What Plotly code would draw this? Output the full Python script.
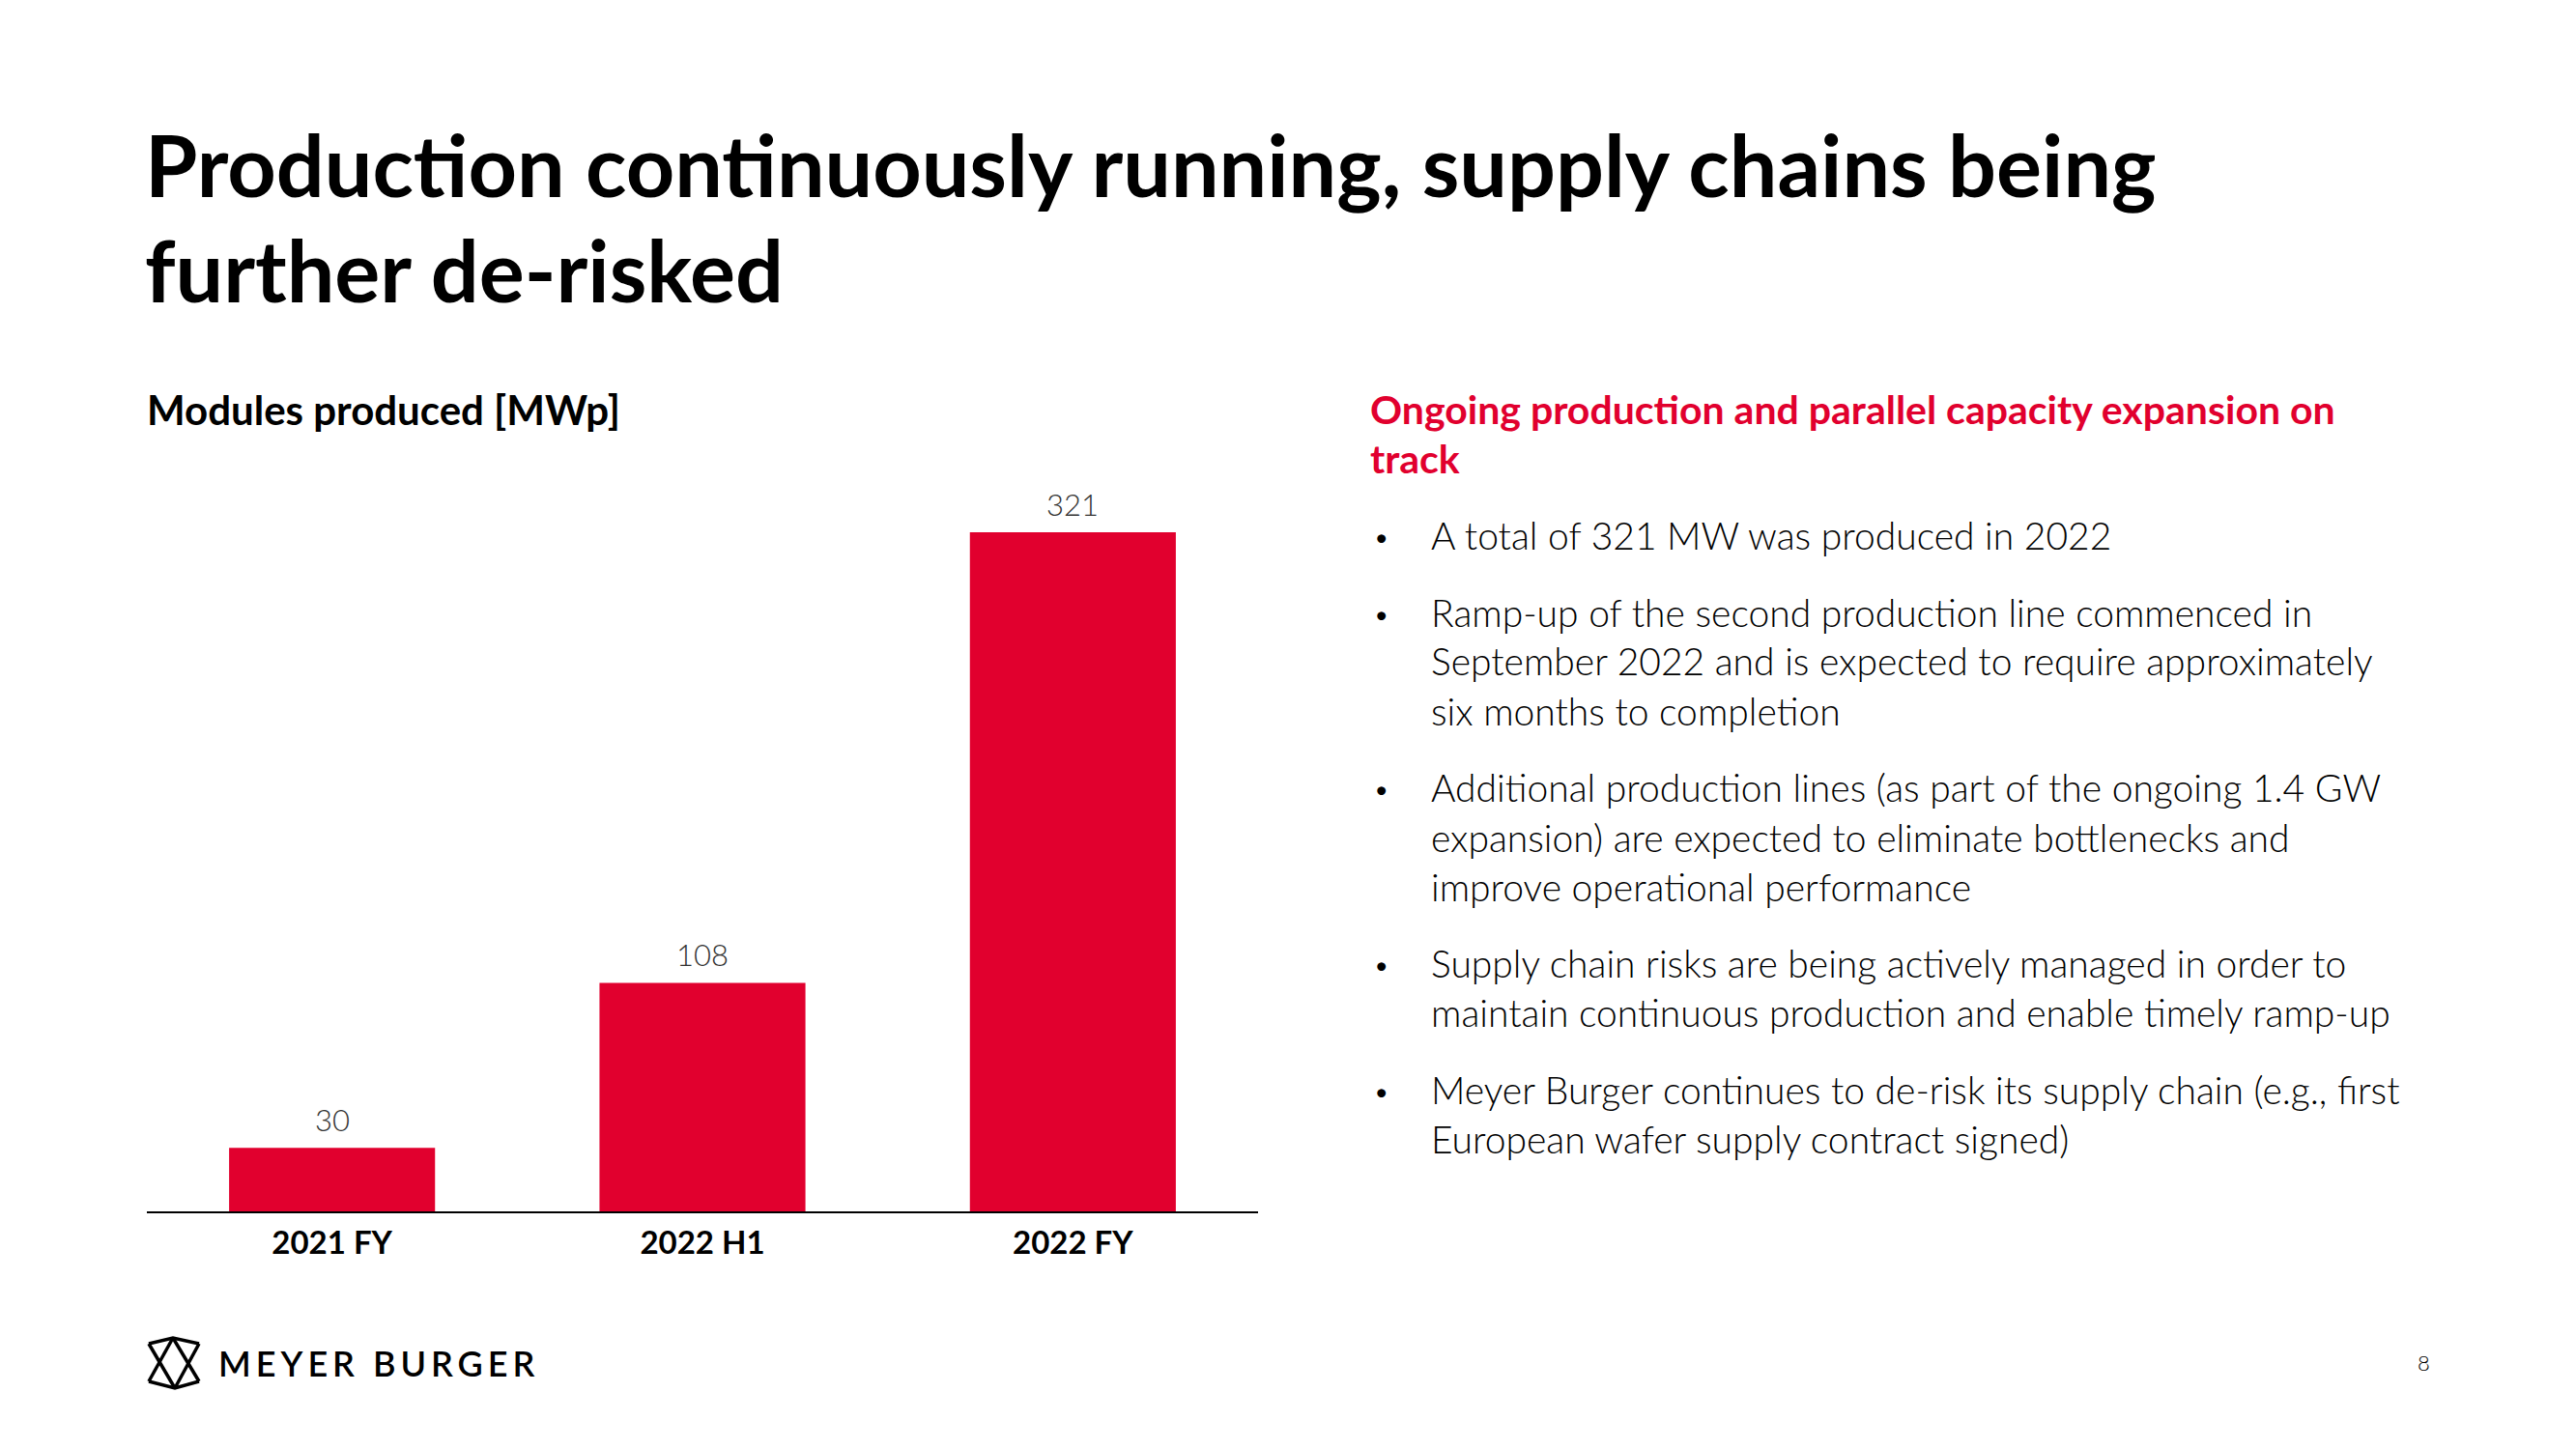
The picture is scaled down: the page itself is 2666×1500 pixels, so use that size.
import plotly.graph_objects as go

# ---- data ----
categories = ["2021 FY", "2022 H1", "2022 FY"]
modules_mwp = [30, 108, 321]
value_labels = ["30", "108", "321"]

title_lines = ["Production continuously running, supply chains being", "further de-risked"]
chart_title = "Modules produced [MWp]"
side_heading = ["Ongoing production and parallel capacity expansion on", "track"]
bullets = [
    ["A total of 321 MW was produced in 2022"],
    ["Ramp-up of the second production line commenced in",
     "September 2022 and is expected to require approximately",
     "six months to completion"],
    ["Additional production lines (as part of the ongoing 1.4 GW",
     "expansion) are expected to eliminate bottlenecks and",
     "improve operational performance"],
    ["Supply chain risks are being actively managed in order to",
     "maintain continuous production and enable timely ramp-up"],
    ["Meyer Burger continues to de-risk its supply chain (e.g., first",
     "European wafer supply contract signed)"],
]
page_number = "8"
brand = "MEYER BURGER"

# ---- style ----
W, H = 2666, 1500
RED = "#E1002E"
FONT = "Lato, 'Open Sans', sans-serif"


def px(x):
    return x / W


def py(y):
    return 1 - y / H


def center_from_baseline(baseline, size):
    return baseline - 0.41 * size


fig = go.Figure()
fig.add_trace(go.Bar(
    x=categories, y=modules_mwp, marker=dict(color=RED, line=dict(width=0)),
    hoverinfo="skip",
))

annotations = []

# data labels above bars
for c, v, t in zip(categories, modules_mwp, value_labels):
    annotations.append(dict(
        x=c, y=v, xref="x", yref="y", text=t, showarrow=False,
        xanchor="center", yanchor="bottom", yshift=8,
        font=dict(family=FONT, size=31, color="#333333", weight=300),
    ))

# title
TS = 88
for i, line in enumerate(title_lines):
    annotations.append(dict(
        x=px(148), y=py(center_from_baseline(206 + i * 109, TS)),
        xref="paper", yref="paper",
        text=line, showarrow=False, xanchor="left", yanchor="middle",
        font=dict(family=FONT, size=TS, color="#000000", weight=700),
    ))

# chart subtitle
annotations.append(dict(
    x=px(150), y=py(center_from_baseline(441, 42)), xref="paper", yref="paper",
    text=chart_title, showarrow=False, xanchor="left", yanchor="middle",
    font=dict(family=FONT, size=42, color="#000000", weight=700),
))

# side heading
for i, line in enumerate(side_heading):
    annotations.append(dict(
        x=px(1416), y=py(center_from_baseline(440 + i * 51, 41)),
        xref="paper", yref="paper",
        text=line, showarrow=False, xanchor="left", yanchor="middle",
        font=dict(family=FONT, size=41, color=RED, weight=700),
    ))

# bullets
BS = 39
bullet_baselines = [[570], [650, 700, 752], [831, 883, 934], [1013, 1064], [1144, 1195]]
for lines, bases in zip(bullets, bullet_baselines):
    annotations.append(dict(
        x=px(1419), y=py(center_from_baseline(bases[0], BS) + 1),
        xref="paper", yref="paper",
        text="•", showarrow=False, xanchor="left", yanchor="middle",
        font=dict(family=FONT, size=30, color="#000000", weight=300),
    ))
    for line, b in zip(lines, bases):
        annotations.append(dict(
            x=px(1479), y=py(center_from_baseline(b, BS)),
            xref="paper", yref="paper",
            text=line, showarrow=False, xanchor="left", yanchor="middle",
            font=dict(family=FONT, size=BS, color="#000000", weight=300),
        ))

# brand text
annotations.append(dict(
    x=px(224), y=py(1411), xref="paper", yref="paper",
    text='<span style="letter-spacing:5px">' + brand + '</span>',
    showarrow=False, xanchor="left", yanchor="middle",
    font=dict(family=FONT, size=36, color="#000000", weight=600),
))

# page number
annotations.append(dict(
    x=px(2508), y=py(1410), xref="paper", yref="paper", text=page_number,
    showarrow=False, xanchor="center", yanchor="middle",
    font=dict(family=FONT, size=22, color="#000000", weight=300),
))

# logo icon (decorative)
TL, TC, TR = (154, 1391), (179, 1385), (206, 1391)
BL, BC, BR = (154, 1430), (181, 1437), (206, 1430)


def path(*pts):
    return "M " + " L ".join(f"{px(x):.5f},{py(y):.5f}" for x, y in pts)


shapes = []
for pts in [(TL, TC, TR), (BL, BC, BR), (TL, BC), (TC, BL), (TR, BC), (TC, BR)]:
    shapes.append(dict(type="path", xref="paper", yref="paper", path=path(*pts),
                       line=dict(color="#000000", width=3.5)))

fig.update_layout(
    width=W, height=H, margin=dict(l=0, r=0, t=0, b=0),
    paper_bgcolor="white", plot_bgcolor="white", showlegend=False,
    bargap=0.444,
    xaxis=dict(
        domain=[px(152), px(1302)], type="category", showline=True,
        linecolor="#000000", linewidth=2, showgrid=False, zeroline=False,
        ticks="", tickfont=dict(family=FONT, size=33, color="#000000", weight=700),
        ticklabelstandoff=2, fixedrange=True,
    ),
    yaxis=dict(
        domain=[py(1254), py(487.5)], range=[0, 350], visible=False,
        showgrid=False, zeroline=False, fixedrange=True,
    ),
    annotations=annotations,
    shapes=shapes,
)

fig.write_html(
    "out.html",
    config={"displayModeBar": False},
    post_script="document.body.style.margin='0';document.body.style.padding='0';",
)
